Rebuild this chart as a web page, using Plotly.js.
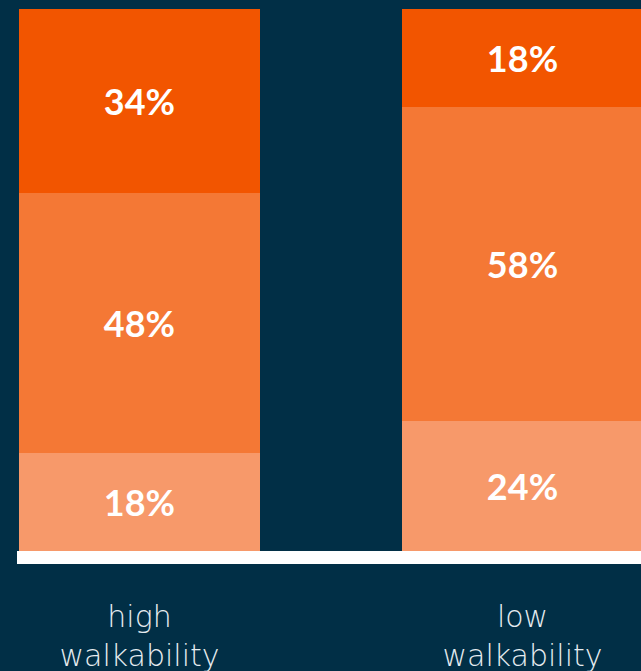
<!DOCTYPE html>
<html>
<head>
<meta charset="utf-8">
<script src="https://cdn.plot.ly/plotly-3.0.1.min.js"></script>
<style>
html,body{margin:0;padding:0;background:#012F46;}
#chart{width:641px;height:671px;}
</style>
</head>
<body>
<div id="chart"></div>
<script>
const categories = ["high<br>walkability", "low<br>walkability"];
const seriesNames = ["bottom", "middle", "top"];
const bottomValues = [18, 24];
const middleValues = [48, 58];
const topValues = [34, 18];
const seriesColors = ["#F7996A", "#F47835", "#F25500"];

const xIdx = [0, 1];
const allValues = [bottomValues, middleValues, topValues];

const traces = allValues.map((vals, i) => ({
  type: "bar",
  name: seriesNames[i],
  x: xIdx,
  y: vals,
  width: 0.6292,
  marker: {color: seriesColors[i], line: {width: 0}},
  text: vals.map(v => v + "%"),
  textposition: "inside",
  insidetextanchor: "middle",
  textangle: 0,
  constraintext: "none",
  textfont: {family: "Lato, sans-serif", size: 36, color: "#FFFFFF", weight: 700},
  hoverinfo: "skip"
}));

const layout = {
  width: 641,
  height: 671,
  margin: {l: 17, r: 0, t: 9, b: 120},
  paper_bgcolor: "#012F46",
  plot_bgcolor: "#012F46",
  barmode: "stack",
  bargap: 0,
  showlegend: false,
  xaxis: {
    range: [-0.3198, 1.3094],
    tickvals: xIdx,
    ticktext: categories,
    showgrid: false,
    zeroline: false,
    showline: false,
    ticks: "",
    ticklabelstandoff: 45,
    tickfont: {family: "DejaVu Sans, sans-serif", size: 30, color: "#E6ECF0", weight: 200},
    fixedrange: true
  },
  yaxis: {
    range: [0, 100],
    visible: false,
    fixedrange: true
  },
  shapes: [{
    type: "rect",
    xref: "paper", yref: "paper",
    x0: 0, x1: 1,
    y0: 0, y1: -13/542,
    fillcolor: "#FFFFFF",
    line: {width: 0},
    layer: "above"
  }]
};

Plotly.newPlot("chart", traces, layout, {displayModeBar: false, staticPlot: true});
</script>
</body>
</html>
